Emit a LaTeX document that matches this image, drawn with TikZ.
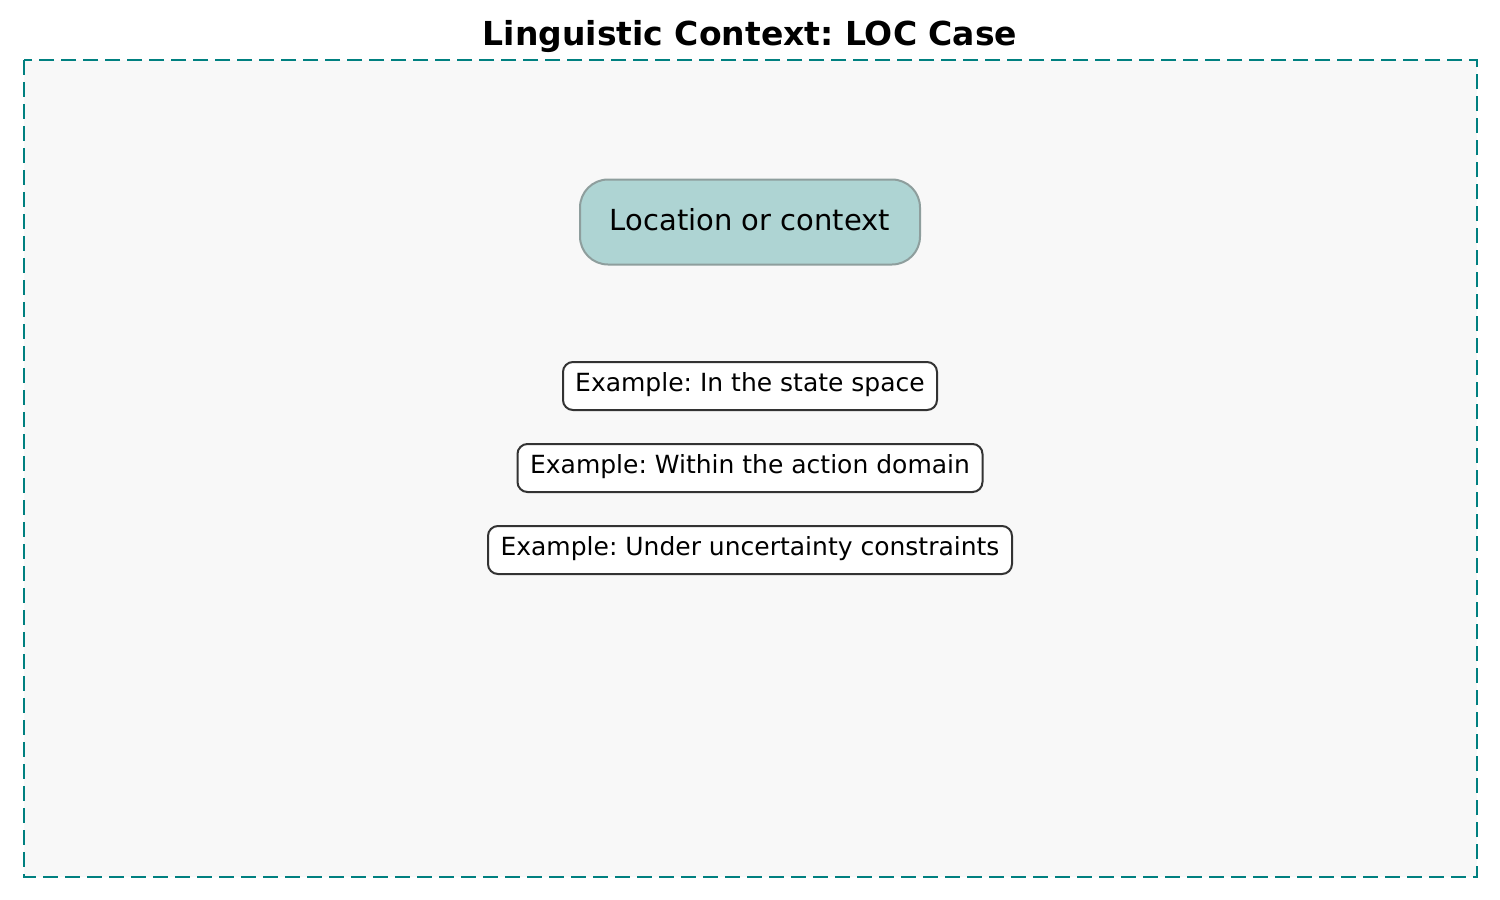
\documentclass[tikz,border=0pt]{standalone}
\usepackage{fontspec}
\setmainfont{DejaVu Sans}
\frenchspacing
\definecolor{frameteal}{RGB}{0,128,128}
\definecolor{panelbg}{HTML}{F8F8F8}
\definecolor{mainfill}{HTML}{AED4D3}
\definecolor{mainborder}{HTML}{8E9E9D}
\definecolor{exborder}{HTML}{333333}
\tikzset{
  frame/.style={draw=frameteal, line width=2pt, dash pattern=on 15pt off 7pt, fill=panelbg},
  mainbox/.style={draw=mainborder, line width=2pt, fill=mainfill, rounded corners=28pt,
    minimum width=340pt, minimum height=85pt, inner sep=0pt, text height=22pt, text depth=6pt,
    font=\fontsize{29}{34}\selectfont},
  exbox/.style={draw=exborder, line width=2pt, fill=white, rounded corners=10pt,
    minimum height=48pt, inner xsep=12pt, inner ysep=0pt, text height=17.4pt, text depth=6pt,
    font=\fontsize{25}{30}\selectfont},
  titlestyle/.style={font=\fontsize{33}{40}\selectfont\bfseries, inner sep=0pt}
}
\begin{document}
\begin{tikzpicture}[x=1pt,y=-1pt]
\useasboundingbox[fill=white] (0,0) rectangle (1500,900);
\node[titlestyle] (title) at (750,37) {Linguistic Context: LOC Case};
\draw[frame] (24,60) rectangle (1477,877);
\node[mainbox] (main) at (750,222) {Location or context};
\node[exbox, minimum width=374pt] (ex1) at (750,386) {Example: In the state space};
\node[exbox, minimum width=465pt] (ex2) at (750,468) {Example: Within the action domain};
\node[exbox, minimum width=524pt] (ex3) at (750,550) {Example: Under uncertainty constraints};
\end{tikzpicture}
\end{document}
